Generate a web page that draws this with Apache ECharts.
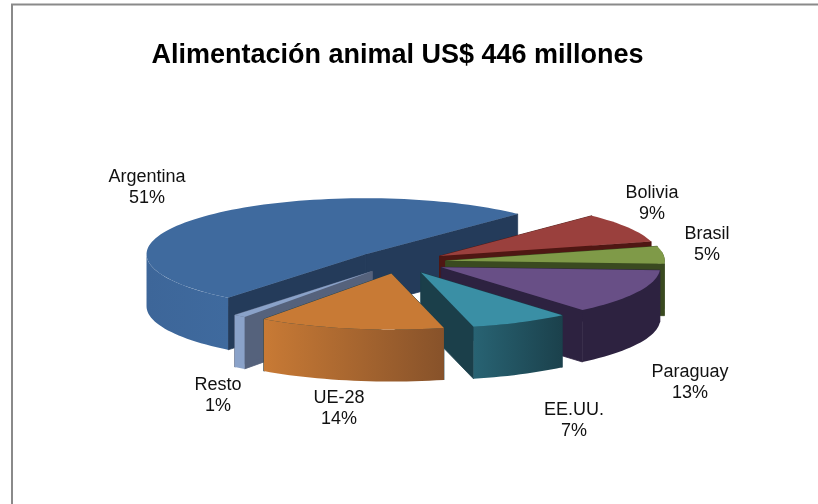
<!DOCTYPE html>
<html><head><meta charset="utf-8">
<style>html,body{margin:0;padding:0;background:#fff}#c{width:818px;height:504px}</style>
<script src="https://cdn.jsdelivr.net/npm/echarts@6/dist/echarts.min.js"></script>
</head><body><div id="c"></div>
<script>
const titleText = 'Alimentación animal US$ 446 millones';
const categories = ['Bolivia','Brasil','Paraguay','EE.UU.','UE-28','Resto','Argentina'];
const values = [8.6,5,13,7.3,13.75,0.9,51.4];
const topColors = ['#9A403D','#7F9A48','#684F86','#3A8FA5','#C87A35','#8AA2C9','#3F6A9E'];
const wallColors = ['#4F1713','#3A4A20','#2D2240','#1B3F4A','#1B3F4A','#55627C','#243B5A'];
const rimFrom = ['#4F1713','#3A4A20','#2D2240','#286373','#C87A35','#8AA2C9','#3D6699'];
const rimTo = ['#4F1713','#3A4A20','#2D2240','#1B414C','#87522A','#8AA2C9','#3F6A9E'];
const drawOrder = [6,0,1,2,3,5,4];
const labelAt = [[652,204],[707,244.5],[690,383],[574,421],[339,409],[218,395.5],[147,188]];

const cx=400, cy=262, rx=219, ry=56, depth=52, explode=0.21, startDeg=314;
const D=Math.PI/180;
const total=values.reduce((a,b)=>a+b,0);
const starts=[]; { let s=startDeg; values.forEach(v=>{starts.push(s); s+=v/total*360;}); }

function rim(ax,ay,t0,t1,dy){ const p=[]; const n=Math.max(2,Math.ceil(Math.abs(t1-t0)/2));
  for(let i=0;i<=n;i++){const t=(t0+(t1-t0)*i/n)*D; p.push([ax+rx*Math.cos(t),ay+ry*Math.sin(t)+dy]);} return p; }
function wall(ax,ay,t){ const x=ax+rx*Math.cos(t*D), y=ay+ry*Math.sin(t*D);
  return [[ax,ay],[x,y],[x,y+depth],[ax,ay+depth]]; }
function grad(a,b){ return {type:'linear',x:0,y:0,x2:1,y2:0,colorStops:[{offset:0,color:a},{offset:1,color:b}]}; }
function poly(points,fill,seal){ return {type:'polygon',shape:{points},style:seal?{fill,stroke:fill,lineWidth:0.8,lineJoin:'round'}:{fill}}; }

function sliceParts(i,value){
  const t0=starts[i], t1=t0+value/total*360, mid=(t0+t1)/2;
  const ax=cx+explode*rx*Math.cos(mid*D), ay=cy+explode*ry*Math.sin(mid*D);
  const parts=[];
  parts.push(poly(wall(ax,ay,t0),wallColors[i],true));
  parts.push(poly(wall(ax,ay,t1),wallColors[i],true));
  for(const k of [0,360,720]){
    const s=Math.max(t0,k-10), e=Math.min(t1,k+180);
    if(e>s) parts.push(poly(rim(ax,ay,s,e,0).concat(rim(ax,ay,e,s,depth)),grad(rimFrom[i],rimTo[i])));
  }
  parts.push(poly([[ax,ay]].concat(rim(ax,ay,t0,t1,0)),topColors[i]));
  return parts;
}

const chart=echarts.init(document.getElementById('c'),null,{renderer:'canvas'});
chart.setOption({
  animation:false,
  backgroundColor:'#ffffff',
  title:{text:titleText,left:392.5,top:37,textAlign:'center',
    textStyle:{fontFamily:'"Liberation Sans",Arial,sans-serif',fontWeight:'bold',fontSize:27,color:'#000'}},
  graphic:[{type:'polyline',silent:true,shape:{points:[[12,504],[12,4.5],[818,4.5]]},style:{fill:null,stroke:'#8a8a8a',lineWidth:2}}],
  series:[{
    type:'custom',coordinateSystem:'none',silent:true,
    data:drawOrder.map(i=>({name:categories[i],value:[i,values[i]]})),
    renderItem:(params,api)=>({type:'group',children:sliceParts(api.value(0),api.value(1))})
  },{
    type:'custom',coordinateSystem:'none',silent:true,
    data:categories.map((n,i)=>({name:n,value:[i,values[i]]})),
    renderItem:(params,api)=>{
      const i=api.value(0), v=api.value(1);
      return {type:'text',x:labelAt[i][0],y:labelAt[i][1],
        style:{text:categories[i]+'\n'+Math.round(v/total*100)+'%',align:'center',verticalAlign:'middle',
          font:'18px "Liberation Sans",Arial,sans-serif',lineHeight:21,fill:'#111'}};
    }
  }]
});
</script></body></html>
